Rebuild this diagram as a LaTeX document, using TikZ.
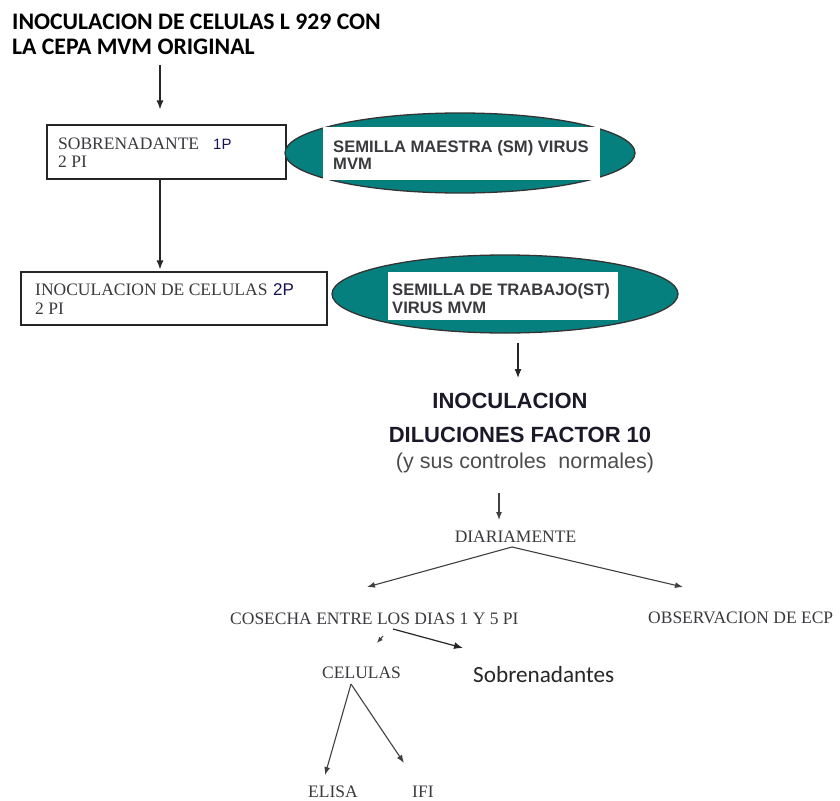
\documentclass[tikz,border=0pt]{standalone}
\usepackage{fontspec}
\setmainfont{Liberation Serif}
\newfontfamily\calfont{Carlito}
\newfontfamily\arfont{Liberation Sans}
\usetikzlibrary{arrows.meta,calc,shapes.geometric}
\definecolor{tealfill}{RGB}{6,128,126}
\definecolor{inkgray}{RGB}{58,58,62}
\definecolor{darkink}{RGB}{28,24,40}
\begin{document}
\begin{tikzpicture}[x=1pt,y=-1pt,
  txt/.style={inner sep=0pt,anchor=base west,text=inkgray,font=\fontsize{17.5}{18}\selectfont},
  ttl/.style={inner sep=0pt,anchor=base west,text=black,font=\calfont\bfseries\fontsize{23.7}{25}\selectfont},
  sem/.style={inner sep=0pt,anchor=base west,text=inkgray,font=\arfont\bfseries\fontsize{16.6}{18}\selectfont},
  boxnode/.style={draw=black!85,line width=1.2pt,inner sep=0pt,fill=white},
  seed/.style={draw=black!80,line width=1.3pt,fill=tealfill,ellipse,inner sep=0pt},
  card/.style={fill=white,inner sep=0pt},
  arr/.style={draw=black!85,line width=1.2pt,-{Latex[length=9pt,width=7pt]}},
  arrthin/.style={draw=black!75,line width=1.1pt,-{Latex[length=8pt,width=6pt]}}
]
\useasboundingbox (0,0) rectangle (840,800);

% heading
\node[ttl] (t1) at (12,30) {INOCULACION DE CELULAS L 929 CON};
\node[ttl] (t2) at (12,55) {LA CEPA MVM ORIGINAL};

% first passage box and master seed
\node[boxnode,minimum width=239,minimum height=54] (b1) at (166.5,152) {};
\node[txt] (b1a) at (58,149) {SOBRENADANTE};
\node[txt,font=\arfont\fontsize{15}{16}\selectfont,text=darkink!80!blue] (b1p) at (213,149) {1P};
\node[txt] (b1b) at (58,167) {2 PI};

\node[seed,minimum width=350,minimum height=80] (e1) at (460,153) {};
\node[card,minimum width=277,minimum height=53,anchor=north west] (c1) at (323,127) {};
\node[sem] (e1a) at (333,152) {SEMILLA MAESTRA (SM) VIRUS};
\node[sem] (e1b) at (333,169) {MVM};

% second passage box and working seed
\node[boxnode,minimum width=306,minimum height=53] (b2) at (174,298.5) {};
\node[txt] (b2a) at (35,295) {INOCULACION DE CELULAS};
\node[txt,font=\arfont\fontsize{17}{18}\selectfont,text=darkink!80!blue] (b2p) at (273,295) {2P};
\node[txt] (b2b) at (35,314) {2 PI};

\node[seed,minimum width=346,minimum height=78] (e2) at (505,294) {};
\node[card,minimum width=230,minimum height=48,anchor=north west] (c2) at (388,272) {};
\node[sem] (e2a) at (392,295) {SEMILLA DE TRABAJO(ST)};
\node[sem] (e2b) at (392,313) {VIRUS MVM};

% inoculation of dilutions
\node[inner sep=0pt,anchor=base,text=darkink,font=\arfont\bfseries\fontsize{22}{24}\selectfont] (inoc) at (510,408) {INOCULACION};
\node[inner sep=0pt,anchor=base,text=darkink,font=\arfont\bfseries\fontsize{22}{24}\selectfont] (dil) at (520,442) {DILUCIONES FACTOR 10};
\node[inner sep=0pt,anchor=base,text=black!70,font=\arfont\fontsize{21.5}{24}\selectfont] (ctl) at (525,468) {(y sus controles\ \ normales)};

% daily follow-up
\node[txt,anchor=base] (dia) at (515.5,542) {DIARIAMENTE};
\node[txt] (cos) at (230,624) {COSECHA ENTRE LOS DIAS 1 Y 5 PI};
\node[txt] (obs) at (648,623) {OBSERVACION DE ECP};
\node[txt] (cel) at (322,678) {CELULAS};
\node[inner sep=0pt,anchor=base west,text=black!85,font=\calfont\fontsize{23.2}{25}\selectfont] (sob) at (473,682) {Sobrenadantes};
\node[txt] (eli) at (308,797) {ELISA};
\node[txt] (ifi) at (412,797) {IFI};

% connector end points
\coordinate (k1) at (160,65);
\coordinate (k3) at (518,343);
\coordinate (k4) at (499,493);
\coordinate (top) at (512,547);
\coordinate (tl) at (367,587);
\coordinate (tr) at (683,587);
\coordinate (s0) at (383,636);
\coordinate (s1) at (377,643);
\coordinate (r0) at (393,629);
\coordinate (r1) at (463,648);
\coordinate (cap) at (351,684);
\coordinate (ta) at (325,775);
\coordinate (tb) at (404,763);

% connectors
\draw[arr,shorten >=15pt] (k1) -- (k1 |- b1.north);
\draw[arr,shorten >=2pt] (b1.south -| k1) -- (b2.north -| k1);
\draw[arr] (k3) -- ($(k3)+(0,35)$);
\draw[arrthin] (k4) -- ($(k4)+(0,27)$);
\draw[arrthin] (top) -- (tl);
\draw[arrthin] (top) -- (tr);
\draw[arrthin,-{Latex[length=6pt,width=5pt]}] (s0) -- (s1);
\draw[arr] (r0) -- (r1);
\draw[arrthin] (cap) -- (ta);
\draw[arrthin] (cap) -- (tb);
\end{tikzpicture}
\end{document}
